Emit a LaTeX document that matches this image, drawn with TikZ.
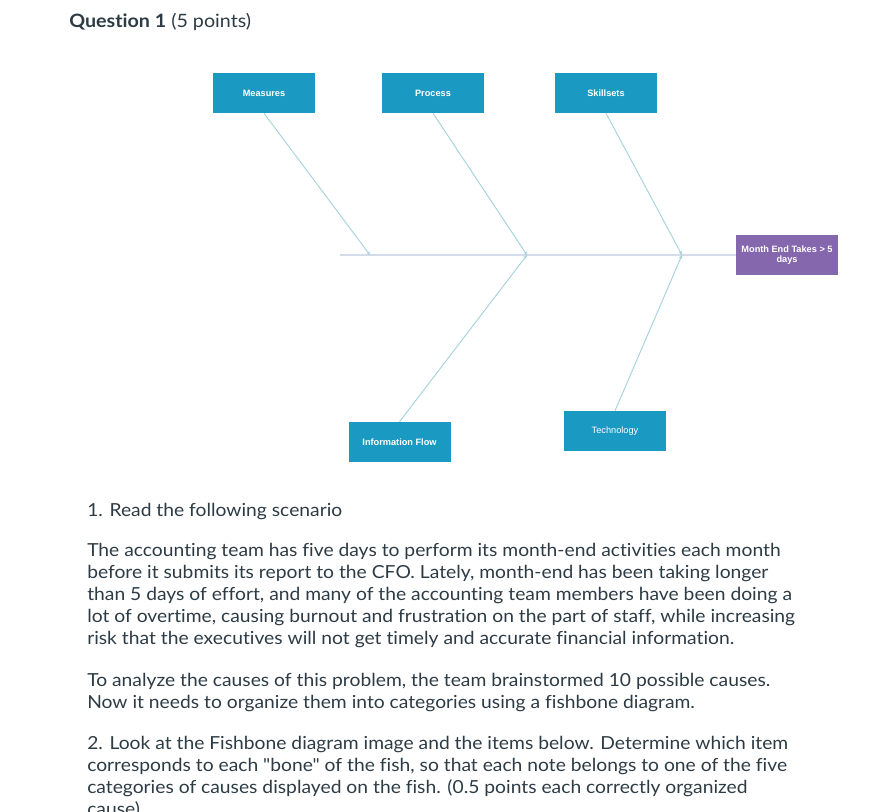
\documentclass[tikz,border=0pt]{standalone}
\usepackage{fontspec}
\setmainfont{Lato}[FakeStretch=1.07, Ligatures={TeXOff, NoCommon}]
\setsansfont{Liberation Sans}
\usetikzlibrary{arrows.meta}
\definecolor{cteal}{HTML}{1A9AC2}
\definecolor{cpurple}{HTML}{8467AC}
\definecolor{cspine}{HTML}{D3DCE8}
\definecolor{cbone}{HTML}{A6D2DC}
\definecolor{ctext}{HTML}{2D3B45}
\tikzset{
  every picture/.style={x=0.75pt, y=-0.75pt},
  cat/.style={fill=#1, text=white, font=\sffamily\bfseries\fontsize{6.9}{7.6}\selectfont, minimum width=76.5pt, minimum height=30pt, align=center, inner sep=1pt},
  cat/.default=cteal,
  spine/.style={draw=cspine, line width=1.3pt},
  bone/.style={draw=cbone, line width=0.7pt, -{Stealth[length=3pt, width=2.6pt]}},
  para/.style={anchor=north west, align=left, inner sep=0pt, text=ctext, font=\fontsize{13.5}{16.5}\selectfont},
}

\begin{document}
\begin{tikzpicture}
  \useasboundingbox (0,0) rectangle (884,811);
  \clip (0,0) rectangle (884,811);
  % title
  \node[anchor=base west, inner sep=0pt, text=ctext, font=\fontsize{13.8}{16}\selectfont] (q) at (69,27) {\textbf{Question 1} (5 points)};
  % fishbone
  \node[cat] (meas) at (264,93) {Measures};
  \node[cat] (proc) at (433,93) {Process};
  \node[cat] (skill) at (606,93) {Skillsets};
  \node[cat=cpurple] (head) at (787,255) {Month End Takes > 5\\days};
  \node[cat] (info) at (399.5,442) {Information Flow};
  \node[cat, font=\sffamily\fontsize{6.9}{7.6}\selectfont] (tech) at (615,431) {Technology};
  \coordinate (tail) at (340,255);
  \coordinate (j1) at (370,255);
  \coordinate (j2) at (527,255);
  \coordinate (j3) at (682,255);
  \draw[spine] (tail) -- (head.west);
  \draw[bone] (meas.south) -- (j1);
  \draw[bone] (proc.south) -- (j2);
  \draw[bone] (skill.south) -- (j3);
  \draw[bone] (info.north) -- (j2);
  \draw[bone] (tech.north) -- (j3);
  % question text
  \node[para] (p1) at (87,503) {1. Read the following scenario};
  \node[para] (p2) at (87,543) {The accounting team has five days to perform its month-end activities each month\\
    before it submits its report to the CFO. Lately, month-end has been taking longer\\
    than 5 days of effort, and many of the accounting team members have been doing a\\
    lot of overtime, causing burnout and frustration on the part of staff, while increasing\\
    risk that the executives will not get timely and accurate financial information.};
  \node[para] (p3) at (87,673) {To analyze the causes of this problem, the team brainstormed 10 possible causes.\\
    Now it needs to organize them into categories using a fishbone diagram.};
  \node[para] (p4) at (87,736) {2. Look at the Fishbone diagram image and the items below. Determine which item\\
    corresponds to each "bone" of the fish, so that each note belongs to one of the five\\
    categories of causes displayed on the fish. (0.5 points each correctly organized\\
    cause)};
\end{tikzpicture}
\end{document}
